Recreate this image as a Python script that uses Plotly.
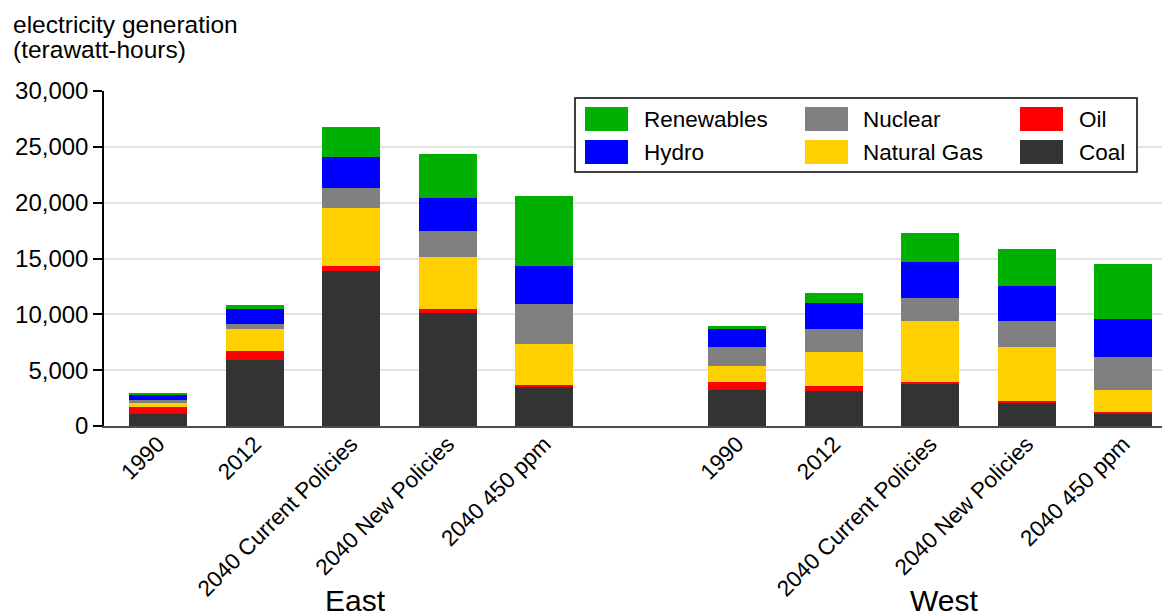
import plotly.graph_objects as go

# ---------------- data ----------------
scenarios = ["1990", "2012", "2040 Current Policies", "2040 New Policies", "2040 450 ppm"]
regions = ["East", "West"]
fuels = ["Coal", "Oil", "Natural Gas", "Nuclear", "Hydro", "Renewables"]
title_lines = ["electricity generation", "(terawatt-hours)"]

east_coal = [1050, 5890, 13870, 10090, 3480]
east_oil = [610, 800, 420, 360, 210]
east_gas = [410, 1990, 5270, 4700, 3660]
east_nuclear = [300, 480, 1790, 2320, 3540]
east_hydro = [480, 1340, 2740, 2990, 3480]
east_renewables = [150, 360, 2680, 3910, 6250]

west_coal = [3240, 3150, 3840, 2140, 1130]
west_oil = [740, 450, 120, 120, 90]
west_gas = [1400, 3010, 5420, 4790, 2020]
west_nuclear = [1670, 2080, 2050, 2320, 2980]
west_hydro = [1640, 2290, 3240, 3160, 3330]
west_renewables = [240, 890, 2650, 3330, 4940]

colors = {
    "Coal": "#333333",
    "Oil": "#ff0000",
    "Natural Gas": "#ffd000",
    "Nuclear": "#808080",
    "Hydro": "#0000ff",
    "Renewables": "#00b000",
}

east = {"Coal": east_coal, "Oil": east_oil, "Natural Gas": east_gas,
        "Nuclear": east_nuclear, "Hydro": east_hydro, "Renewables": east_renewables}
west = {"Coal": west_coal, "Oil": west_oil, "Natural Gas": west_gas,
        "Nuclear": west_nuclear, "Hydro": west_hydro, "Renewables": west_renewables}

# category slots: East 0..4, empty slot, West 6..10
n = len(scenarios)
x_pos = list(range(n)) + list(range(n + 1, 2 * n + 1))
tick_text = scenarios + scenarios

# ---------------- figure ----------------
W, H = 1162, 616
ML, MR, MT, MB = 104, 0, 91, 190
PW, PH = W - ML - MR, H - MT - MB


def px(xp):
    return (xp - ML) / PW


def py(yp):
    return (H - MB - yp) / PH


fig = go.Figure()
for f in fuels:
    fig.add_trace(go.Bar(
        x=x_pos,
        y=east[f] + west[f],
        name=f,
        marker=dict(color=colors[f], line=dict(width=0)),
        width=0.6,
        showlegend=False,
    ))

fig.update_layout(
    barmode="stack",
    width=W, height=H,
    margin=dict(l=ML, r=MR, t=MT, b=MB, pad=0),
    paper_bgcolor="white",
    plot_bgcolor="white",
    font=dict(family="Liberation Sans, Arial, sans-serif", color="black"),
)

# axis title (top-left, two lines)
for k, line in enumerate(title_lines):
    fig.add_annotation(
        x=px(11), xref="paper", y=py(25 + 24 * k), yref="paper",
        text=line, showarrow=False, xanchor="left", yanchor="middle", align="left",
        font=dict(size=24.5, color="black"),
    )

fig.update_xaxes(
    range=[-0.56, 10.4],
    tickmode="array",
    tickvals=x_pos,
    ticktext=tick_text,
    tickangle=-45,
    tickfont=dict(size=22.5, color="black"),
    ticks="",
    ticklabelstandoff=-6,
    showgrid=False,
    showline=True,
    linecolor="#4d4d4d",
    linewidth=2,
    zeroline=False,
)
fig.update_yaxes(
    range=[0, 30000],
    tickvals=[0, 5000, 10000, 15000, 20000, 25000, 30000],
    tickformat=",d",
    tickfont=dict(size=24, color="black"),
    ticks="outside",
    ticklen=9,
    tickwidth=1.5,
    tickcolor="black",
    showline=True,
    linecolor="black",
    linewidth=1.5,
    showgrid=True,
    gridcolor="#e3e3e3",
    gridwidth=1.5,
    zeroline=False,
)

# group labels
for i, r in enumerate(regions):
    center = x_pos[i * n + n // 2]
    fig.add_annotation(
        x=center, xref="x", y=py(600), yref="paper",
        text=r, showarrow=False, xanchor="center", yanchor="middle",
        xshift=4 + 10 * i,
        font=dict(size=30, color="black"),
    )

# legend box (column-major layout like the reference)
shapes = [dict(type="rect", xref="paper", yref="paper",
               x0=px(575), x1=px(1137), y0=py(172), y1=py(98),
               line=dict(color="black", width=1.5), fillcolor="white", layer="above")]
legend_cols = [["Renewables", "Hydro"], ["Nuclear", "Natural Gas"], ["Oil", "Coal"]]
col_sw_x = [585, 805, 1020]
col_tx_x = [642, 861, 1077]
row_y = [(107, 131), (140, 164)]
for c, items in enumerate(legend_cols):
    for r, name in enumerate(items):
        y0, y1 = row_y[r]
        shapes.append(dict(type="rect", xref="paper", yref="paper",
                           x0=px(col_sw_x[c]), x1=px(col_sw_x[c] + 43),
                           y0=py(y1), y1=py(y0),
                           line=dict(width=0), fillcolor=colors[name], layer="above"))
        fig.add_annotation(
            x=px(col_tx_x[c]), xref="paper", y=py((y0 + y1) / 2), yref="paper",
            text=name, showarrow=False, xanchor="left", yanchor="middle",
            font=dict(size=22.5, color="black"),
        )
fig.update_layout(shapes=shapes)

fig.write_html(
    "out.html",
    config={"displayModeBar": False},
    post_script="document.body.style.margin='0';document.body.style.overflow='hidden';",
)
